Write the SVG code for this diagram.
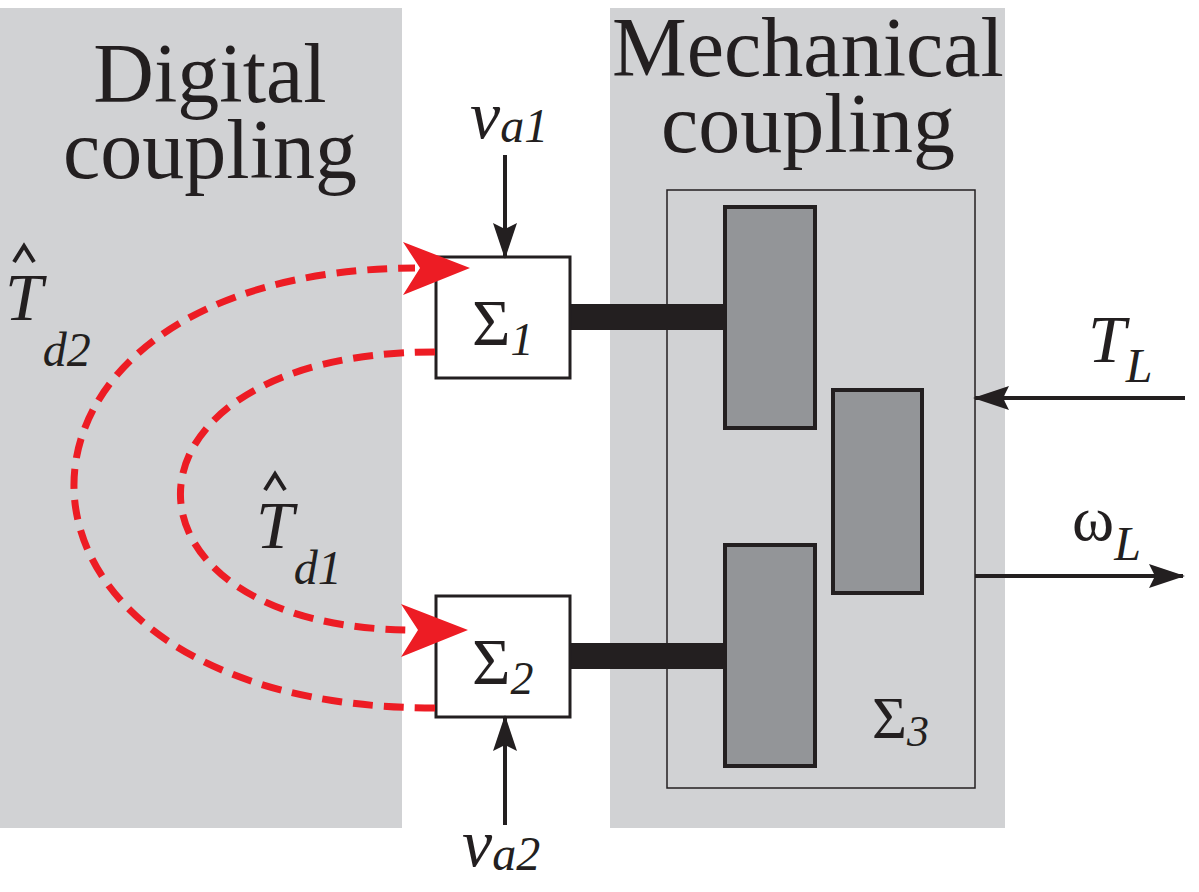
<svg xmlns="http://www.w3.org/2000/svg" width="1199" height="892" viewBox="0 0 1199 892">
<defs>
<style>
.t{font-family:"Liberation Serif",serif;fill:#231f20}
.i{font-style:italic}
.blk{stroke:#231f20;stroke-width:4;fill:none}
.red{stroke:#ed1c24;stroke-width:7;fill:none;stroke-dasharray:20 11}
.dark{fill:#939598;stroke:#231f20;stroke-width:4}
</style>
<marker id="ah" markerWidth="36" markerHeight="30" refX="34" refY="15" orient="auto" markerUnits="userSpaceOnUse" viewBox="0 0 36 30"><path d="M0,3 L36,15 L0,27 L6,15 z" fill="#231f20"/></marker>
</defs>
<rect x="0" y="8" width="402" height="820" fill="#d1d2d4"/>
<rect x="610" y="8" width="395" height="820" fill="#d1d2d4"/>
<text class="t" x="210" y="102" font-size="84" text-anchor="middle">Digital</text>
<text class="t" x="210" y="178" font-size="84" text-anchor="middle">coupling</text>
<text class="t" x="808" y="76" font-size="84" text-anchor="middle">Mechanical</text>
<text class="t" x="808" y="152" font-size="84" text-anchor="middle">coupling</text>
<g id="sys3"><rect x="667" y="190" width="308" height="598" fill="none" stroke="#231f20" stroke-width="1.5"/>
<text class="t" x="872" y="738" font-size="60">Σ<tspan class="i" font-size="44" dy="8">3</tspan></text></g>
<g id="shafts"><rect x="570" y="304" width="155" height="26" fill="#231f20"/><rect x="570" y="643" width="155" height="26" fill="#231f20"/></g>
<g id="m1"><rect class="dark" x="725" y="207" width="90" height="221"/></g>
<g id="m3"><rect class="dark" x="833" y="390" width="89" height="203"/></g>
<g id="m2"><rect class="dark" x="725" y="545" width="90" height="221"/></g>
<g id="s1"><rect x="436" y="257" width="134" height="121" fill="#fff" stroke="#231f20" stroke-width="3"/>
<text class="t" x="472" y="345" font-size="66">Σ<tspan class="i" font-size="46" dy="10">1</tspan></text></g>
<g id="s2"><rect x="436" y="596" width="134" height="121" fill="#fff" stroke="#231f20" stroke-width="3"/>
<text class="t" x="472" y="684" font-size="66">Σ<tspan class="i" font-size="46" dy="10">2</tspan></text></g>
<g id="connectors">
<line class="blk" x1="505" y1="155" x2="505" y2="257" marker-end="url(#ah)" stroke-width="3"/>
<line class="blk" x1="505" y1="825" x2="505" y2="717" marker-end="url(#ah)" stroke-width="3"/>
<line class="blk" x1="1185" y1="398" x2="975" y2="398" marker-end="url(#ah)" stroke-width="3"/>
<line class="blk" x1="975" y1="576" x2="1183" y2="576" marker-end="url(#ah)" stroke-width="3"/>
<path class="red" d="M435 708 C-43 708,-43 270,415 268"/>
<path d="M470 268 L403 242 L420 268 L403 295 z" fill="#ed1c24"/>
<path class="red" d="M435 352 C99 352,99 630,415 630"/>
<path d="M468 630 L401 604 L418 630 L401 657 z" fill="#ed1c24"/>
</g>
<text class="t i" x="470" y="138" font-size="68">v<tspan font-size="48" dy="4">a1</tspan></text>
<text class="t i" x="462" y="866" font-size="68">v<tspan font-size="48" dy="4">a2</tspan></text>
<text class="t i" x="1088" y="362" font-size="68">T<tspan font-size="48" dy="20">L</tspan></text>
<text class="t" x="1072" y="540" font-size="64">ω<tspan class="i" font-size="48" dy="20">L</tspan></text>
<text class="t i" x="5" y="320" font-size="68">T<tspan font-size="48" dy="46">d2</tspan></text>
<path d="M14 262 L24 246 L34 262" fill="none" stroke="#231f20" stroke-width="4"/>
<text class="t i" x="256" y="548" font-size="68">T<tspan font-size="48" dy="36">d1</tspan></text>
<path d="M265 490 L275 474 L285 490" fill="none" stroke="#231f20" stroke-width="4"/>
</svg>
